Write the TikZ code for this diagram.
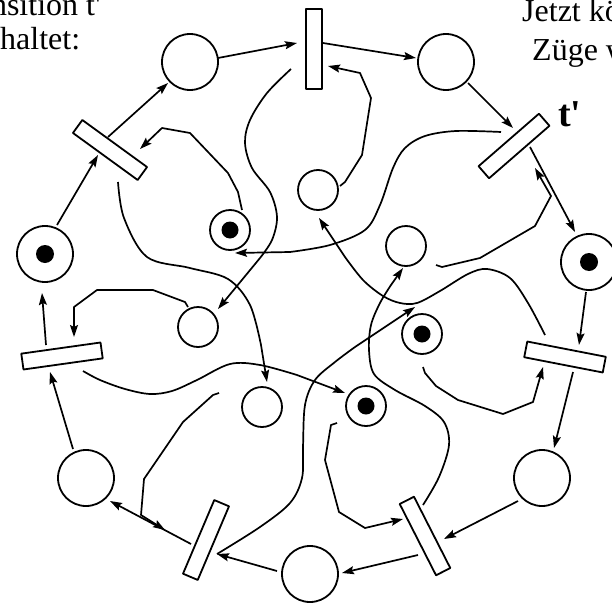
\documentclass[tikz,border=0pt]{standalone}
\usepackage{fontspec}
\setmainfont{Liberation Serif}
\usetikzlibrary{calc,arrows.meta}
\begin{document}
\begin{tikzpicture}[x=1pt,y=-1pt,
 place/.style={circle,draw,line width=1.8pt,minimum size=56pt,inner sep=0pt,outer sep=0pt},
 iplace/.style={place,minimum size=40pt},
 trans/.style={rectangle,draw,line width=1.8pt,minimum width=80pt,minimum height=16pt,inner sep=0pt,outer sep=0pt},
 tok/.style={circle,fill=black,minimum size=18pt,inner sep=0pt},
 itok/.style={circle,fill=black,minimum size=17pt,inner sep=0pt},
 conn/.style={line width=1.7pt,-{Stealth[length=12pt,width=8pt,inset=2pt]}},
 lbl/.style={inner sep=0pt,font=\fontsize{32}{36}\selectfont},
 line join=round
]
\useasboundingbox (0,0) rectangle (612,602);

% outer places
\node[place] (P1) at (190,62) {};
\node[place] (P2) at (446,62) {};
\node[place] (P3) at (589,262) {};
\node[place] (P4) at (542,478) {};
\node[place] (P5) at (310,574) {};
\node[place] (P6) at (86,478) {};
\node[place] (P7) at (45,254) {};
\node[tok] (P3t) at (P3) {};
\node[tok] (P7t) at (P7) {};

% transitions
\node[trans,rotate=90] (T1) at (314,49) {};
\node[trans,rotate=41] (T2) at (514,146) {};
\node[trans,rotate=-36] (T3) at (110,150) {};
\node[trans,rotate=8] (T4) at (62,356) {};
\node[trans,rotate=67] (T5) at (206,540) {};
\node[trans,rotate=-63] (T6) at (425,536) {};
\node[trans,rotate=-11] (T7) at (565,357) {};

% inner places
\node[iplace] (Q1) at (318,190) {};
\node[iplace] (Q2) at (230,230) {};
\node[iplace] (Q3) at (406,246) {};
\node[iplace] (Q4) at (198,327) {};
\node[iplace] (Q5) at (422,334) {};
\node[iplace] (Q6) at (262,407) {};
\node[iplace] (Q7) at (366,406) {};
\node[itok] (Q2t) at (Q2) {};
\node[itok] (Q5t) at (Q5) {};
\node[itok] (Q7t) at (Q7) {};

% outer ring arcs
\draw[conn] ($(P1)+(28,-4)$) -- ($(T1)+(-17,-6)$);
\draw[conn] ($(T1)+(9,-6)$) -- ($(P2)+(-30,-4)$);
\draw[conn] ($(P2)+(22,21)$) -- ($(T2)+(-1,-18)$);
\draw[conn] ($(T2)+(16,1)$) -- ($(P3)+(-14,-30)$);
\draw[conn] ($(P3)+(-3,30)$) -- ($(T7)+(14,-12)$);
\draw[conn] ($(T7)+(8,15)$) -- ($(P4)+(12,-30)$);
\draw[conn] ($(P4)+(-24,23)$) -- ($(T6)+(19,3)$);
\draw[conn] ($(T6)+(-7,19)$) -- ($(P5)+(32,-1)$);
\draw[conn] ($(P5)+(-33,-3)$) -- ($(T5)+(11,14)$);
\draw[conn] ($(T5)+(-15,4)$) -- ($(P6)+(24,23)$);
\draw[conn] ($(P6)+(-13,-29)$) -- ($(T4)+(-12,16)$);
\draw[conn] ($(T4)+(-16,-11)$) -- ($(P7)+(-3,39)$);
\draw[conn] ($(P7)+(12,-29)$) -- ($(T3)+(-12,5)$);
\draw[conn] ($(T3)+(-2,-13)$) -- ($(P1)+(-22,21)$);

% inner arcs: polylines
\draw[conn] ($(Q2)+(12,-20)$) -- (238,192) -- (228,173) -- (190,133) -- (162,128) -- ($(T3)+(30,-1)$);
\draw[conn] ($(Q1)+(22,-4)$) -- (345,182) -- (362,155) -- (371,98) -- (360,73) -- ($(T1)+(14,17)$);
\draw[conn] ($(Q3)+(30,19)$) -- (442,267) -- (480,258) -- (535,226) -- (551,196) -- ($(T2)+(21,22)$);
\draw[conn] ($(Q4)+(-10,-20)$) -- (185,302) -- (153,290) -- (97,290) -- (74,307) -- ($(T4)+(12,-19)$);
\draw[conn] ($(Q5)+(1,33)$) -- (425,373) -- (436,386) -- (458,400) -- (503,414) -- (533,402) -- ($(T7)+(-22,10)$);
\draw[conn] ($(Q7)+(-29,17)$) -- (331,425) -- (325,460) -- (339,512) -- (365,528) -- ($(T6)+(-22,-17)$);
\draw[conn] ($(Q6)+(-43,-14)$) -- (213,395) -- (183,422) -- (144,479) -- (141,515) -- ($(T5)+(-41,-10)$);

% inner arcs: curves
\draw[conn] plot[smooth,tension=0.55] coordinates {($(T3)+(8,32)$) (124,218) (147,257) (190,268) (228,279) (250,305) (261,345)} -- ($(Q6)+(5,-25)$);
\draw[conn] plot[smooth,tension=0.55] coordinates {($(T1)+(-23,20)$) (267,93) (250,120) (245,143) (252,168) (270,192) (277,217) (272,240) (260,258)} -- ($(Q4)+(20,-18)$);
\draw[conn] plot[smooth,tension=0.55] coordinates {($(T2)+(-13,-14)$) (456,131) (425,136) (405,148) (393,168) (380,205) (365,230) (330,245) (290,252)} -- ($(Q2)+(5,23)$);
\draw[conn] plot[smooth,tension=0.55] coordinates {($(T7)+(-20,-22)$) (528,303) (510,278) (487,269) (468,274) (440,291) (417,303) (400,303) (383,296) (363,280) (345,257)} -- ($(Q1)+(1,28)$);
\draw[conn] plot[smooth,tension=0.55] coordinates {($(T4)+(21,15)$) (100,380) (125,389) (150,394) (172,391) (197,380) (230,364) (260,365) (297,375)} -- ($(Q7)+(-21,-13)$);
\draw[conn] plot[smooth,tension=0.55] coordinates {($(T6)+(-2,-31)$) (439,477) (449,445) (444,422) (425,406) (395,390) (374,374) (369,350) (371,325) (380,303) (391,285)} -- ($(Q3)+(-3,22)$);
\draw[conn] plot[smooth,tension=0.55] coordinates {($(T5)+(11,14)$) (260,527) (290,503) (302,478) (303,447) (305,405) (315,380) (335,362) (355,347)} -- ($(Q5)+(-7,-27)$);

% texts
\node[lbl,anchor=base east] (L1) at (101,16) {nsition t\textquotesingle};
\node[lbl,anchor=base west] (L2) at (0,49) {haltet:};
\node[lbl,anchor=base west] (R1) at (522,22) {Jetzt kö};
\node[lbl,anchor=base west] (R2) at (532,60) {Züge w};
\node[inner sep=0pt,anchor=base west,font=\fontsize{38}{40}\selectfont\bfseries] (tp) at (558,126) {t\textquotesingle};
\end{tikzpicture}
\end{document}
